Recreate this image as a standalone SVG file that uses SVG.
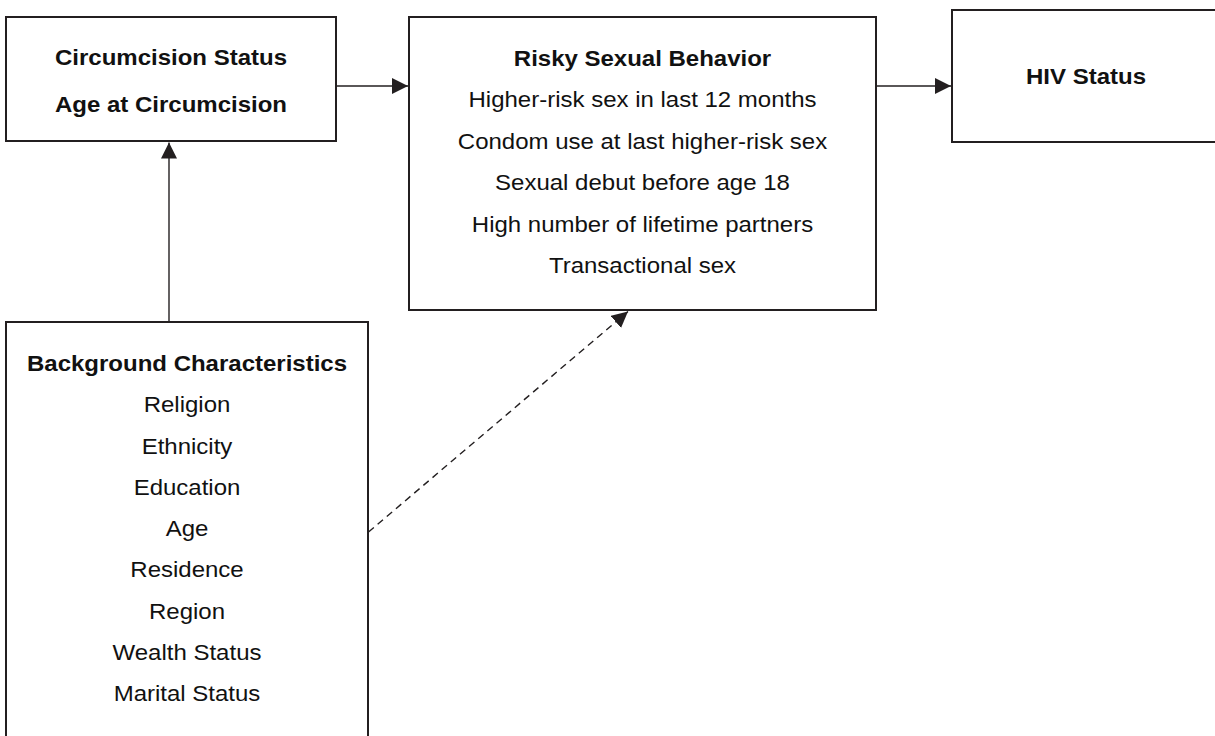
<svg xmlns="http://www.w3.org/2000/svg" width="1215" height="736" viewBox="0 0 1215 736">
  <style>
    .box { fill: #ffffff; stroke: #231f20; stroke-width: 2; }
    .t { font-family: "Liberation Sans", Arial, sans-serif; font-size: 22px; fill: #111111; text-anchor: middle; }
    .b { font-weight: bold; }
    .conn { fill: none; stroke: #231f20; stroke-width: 1.4; }
    .dash { stroke-dasharray: 7 5; }
  </style>
  <defs>
    <marker id="arrow" markerUnits="userSpaceOnUse" markerWidth="16" markerHeight="16" viewBox="0 0 15 15" refX="15" refY="7.5" orient="auto">
      <path d="M0,0 L15,7.5 L0,15 Z" fill="#231f20"/>
    </marker>
  </defs>
  <rect width="1215" height="736" fill="#ffffff"/>

  <g id="connectors">
    <line class="conn" x1="337" y1="86" x2="408" y2="86" marker-end="url(#arrow)"/>
    <line class="conn" x1="877" y1="86" x2="951" y2="86" marker-end="url(#arrow)"/>
    <line class="conn" x1="169" y1="321" x2="169" y2="142.5" marker-end="url(#arrow)"/>
    <line class="conn dash" x1="368.5" y1="532" x2="628" y2="311.5" marker-end="url(#arrow)"/>
  </g>

  <g id="circumcision">
    <rect class="box" x="6" y="17" width="330" height="124"/>
    <g transform="translate(171 0) scale(1.0909 1)">
      <text class="t b" x="0" y="65.5">Circumcision Status</text>
      <text class="t b" x="0" y="112.5">Age at Circumcision</text>
    </g>
  </g>

  <g id="risky-behavior">
    <rect class="box" x="409" y="17" width="467" height="293"/>
    <g transform="translate(642.5 0) scale(1.0909 1)">
      <text class="t b" x="0" y="66">Risky Sexual Behavior</text>
      <text class="t" x="0" y="107.5">Higher-risk sex in last 12 months</text>
      <text class="t" x="0" y="149">Condom use at last higher-risk sex</text>
      <text class="t" x="0" y="190.5">Sexual debut before age 18</text>
      <text class="t" x="0" y="232">High number of lifetime partners</text>
      <text class="t" x="0" y="273.5">Transactional sex</text>
    </g>
  </g>

  <g id="hiv-status">
    <rect class="box" x="952" y="10" width="270" height="132"/>
    <g transform="translate(1086 0) scale(1.0909 1)">
      <text class="t b" x="0" y="84">HIV Status</text>
    </g>
  </g>

  <g id="background">
    <rect class="box" x="6" y="322" width="362" height="430"/>
    <g transform="translate(187 0) scale(1.0909 1)">
      <text class="t b" x="0" y="371">Background Characteristics</text>
      <text class="t" x="0" y="412.5">Religion</text>
      <text class="t" x="0" y="453.8">Ethnicity</text>
      <text class="t" x="0" y="495">Education</text>
      <text class="t" x="0" y="536.3">Age</text>
      <text class="t" x="0" y="577.5">Residence</text>
      <text class="t" x="0" y="619">Region</text>
      <text class="t" x="0" y="660.3">Wealth Status</text>
      <text class="t" x="0" y="701.5">Marital Status</text>
    </g>
  </g>
</svg>
